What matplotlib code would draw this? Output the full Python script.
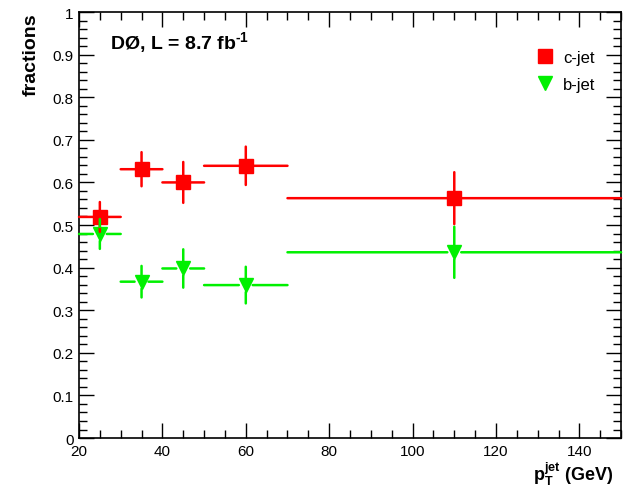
import matplotlib
matplotlib.use("Agg")
import matplotlib.pyplot as plt
from matplotlib.ticker import MultipleLocator

# pT bins (GeV)
bin_lo = [20, 30, 40, 50, 70]
bin_hi = [30, 40, 50, 70, 150]
bin_center = [25, 35, 45, 60, 110]

# flavour fractions with stat errors
c_frac = [0.519, 0.631, 0.600, 0.639, 0.563]
c_err = [0.035, 0.040, 0.048, 0.045, 0.061]
b_frac = [0.479, 0.367, 0.398, 0.359, 0.436]
b_err = [0.035, 0.037, 0.045, 0.043, 0.060]

plt.rcParams["font.family"] = ["Liberation Sans", "DejaVu Sans"]
plt.rcParams["mathtext.fontset"] = "custom"
plt.rcParams["mathtext.rm"] = "Liberation Sans:bold"
plt.rcParams["mathtext.bf"] = "Liberation Sans:bold"
plt.rcParams["mathtext.it"] = "Liberation Sans:bold"

RED = "#ff0000"
GREEN = "#00f000"
GAP = 5.0  # points, gap of the error bars around the marker
LW = 1.8


def draw_points(ax, x, lo, hi, y, yerr, color, marker, ms, label):
    for xi, l, h, yi, e in zip(x, lo, hi, y, yerr):
        for end in [(l, yi), (h, yi), (xi, yi - e), (xi, yi + e)]:
            ax.annotate("", xy=end, xytext=(xi, yi),
                        arrowprops=dict(arrowstyle="-", color=color, lw=LW,
                                        shrinkA=GAP, shrinkB=0))
    return ax.plot(x, y, ls="none", marker=marker, ms=ms, color=color,
                   mec=color, label=label)[0]


fig = plt.figure(figsize=(6.34, 4.89), dpi=100)
ax = fig.add_axes([0.1246, 0.1022, 0.855, 0.8712])

h_c = draw_points(ax, bin_center, bin_lo, bin_hi, c_frac, c_err, RED, "s", 10, "c-jet")
h_b = draw_points(ax, bin_center, bin_lo, bin_hi, b_frac, b_err, GREEN, "v", 9.5, "b-jet")

ax.set_xlim(20, 150)
ax.set_ylim(0, 1)
ax.xaxis.set_major_locator(MultipleLocator(20))
ax.xaxis.set_minor_locator(MultipleLocator(5))
ax.yaxis.set_minor_locator(MultipleLocator(0.02))
ax.set_yticks([i / 10 for i in range(11)])
ax.set_yticklabels(["0", "0.1", "0.2", "0.3", "0.4", "0.5", "0.6", "0.7", "0.8", "0.9", "1"])
ax.tick_params(which="both", direction="in", top=True, right=True, labelsize=11, pad=4)
ax.tick_params(which="major", length=11, width=1)
ax.tick_params(which="minor", length=5.5, width=1)
for sp in ax.spines.values():
    sp.set_linewidth(1.2)

ax.set_ylabel("fractions", fontsize=14, fontweight="bold", loc="top", labelpad=9)
ax.set_xlabel(r"$\mathbf{p_{T}^{jet}}$ (GeV)", fontsize=13, fontweight="bold", loc="right")
ax.xaxis.set_label_coords(0.985, -0.05)

ax.text(0.057, 0.915, r"DØ, L = 8.7 fb$^{\text{-1}}$", transform=ax.transAxes,
        fontsize=14, fontweight="bold")

ax.legend(handles=[h_c, h_b], loc="upper right", bbox_to_anchor=(0.974, 0.939),
          frameon=False, fontsize=12, handlelength=1.0, handletextpad=0.6,
          labelspacing=0.75, borderaxespad=0.3)

fig.savefig("out.png", dpi=100)
